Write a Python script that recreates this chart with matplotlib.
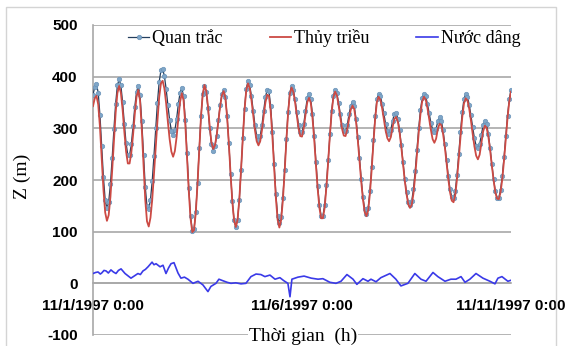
import numpy as np
import pandas as pd
import matplotlib
matplotlib.use("Agg")
import matplotlib.pyplot as plt
from matplotlib.patches import Rectangle

plt.rcParams["axes.unicode_minus"] = False

# hourly observed water level (Quan trac), 11/1/1997 0:00 .. 11/11/1997 0:00
quan_trac = [
    365, 380, 385, 369, 325, 265, 205, 161, 145, 157, 192, 242, 298, 348, 383, 395, 383, 351, 309, 271, 248, 248, 269, 304,
    342, 371, 382, 364, 314, 249, 187, 149, 144, 162, 198, 247, 300, 350, 390, 412, 415, 401, 376, 345, 316, 295, 287, 296,
    318, 347, 369, 378, 362, 316, 252, 185, 131, 102, 105, 138, 194, 261, 323, 366, 382, 370, 339, 300, 269, 257, 265, 286,
    316, 345, 366, 374, 361, 324, 271, 212, 159, 122, 109, 123, 162, 219, 281, 338, 377, 391, 383, 362, 334, 306, 285, 277,
    285, 306, 334, 360, 375, 373, 344, 293, 231, 173, 131, 116, 129, 166, 219, 279, 332, 369, 382, 375, 356, 331, 307, 293,
    292, 308, 334, 358, 367, 357, 328, 285, 235, 188, 151, 131, 131, 151, 190, 238, 289, 333, 363, 374, 368, 350, 327, 306,
    294, 294, 307, 327, 344, 351, 343, 319, 284, 243, 202, 167, 143, 135, 146, 179, 225, 277, 323, 356, 367, 362, 348, 329,
    309, 295, 290, 297, 314, 328, 330, 319, 297, 267, 234, 202, 176, 157, 151, 159, 183, 218, 259, 300, 335, 359, 367, 362,
    348, 330, 311, 297, 292, 299, 314, 321, 315, 296, 269, 238, 207, 182, 167, 165, 179, 210, 250, 293, 331, 357, 366, 361,
    346, 325, 302, 281, 266, 261, 269, 288, 306, 314, 308, 289, 262, 231, 202, 178, 166, 166, 181, 208, 244, 285, 324, 356,
    375,
]

# hourly astronomical tide (Thuy trieu)
thuy_trieu = [
    343, 358, 363, 346, 302, 242, 181, 137, 121, 132, 167, 218, 275, 330, 368, 382, 369, 336, 293, 255, 232, 232, 253, 287,
    328, 361, 374, 354, 299, 229, 162, 120, 110, 127, 162, 211, 264, 314, 360, 387, 392, 377, 348, 312, 279, 255, 245, 256,
    283, 319, 351, 368, 354, 308, 244, 178, 126, 99, 103, 136, 192, 259, 322, 366, 384, 373, 343, 304, 273, 260, 267, 286,
    314, 343, 364, 372, 359, 322, 270, 211, 158, 122, 109, 123, 162, 219, 280, 336, 374, 387, 377, 354, 325, 296, 275, 267,
    275, 296, 324, 350, 365, 363, 334, 284, 223, 165, 123, 108, 122, 160, 214, 275, 329, 366, 379, 371, 351, 325, 300, 285,
    284, 300, 326, 350, 359, 350, 321, 279, 229, 183, 146, 126, 126, 146, 186, 234, 286, 330, 360, 371, 364, 345, 321, 299,
    286, 285, 298, 318, 336, 344, 337, 314, 279, 238, 197, 162, 138, 130, 141, 174, 220, 272, 318, 351, 361, 355, 339, 318,
    296, 281, 275, 283, 302, 318, 322, 313, 293, 264, 231, 199, 173, 153, 146, 152, 174, 208, 249, 291, 327, 352, 361, 356,
    340, 319, 297, 279, 272, 280, 299, 309, 306, 289, 264, 233, 202, 176, 160, 157, 171, 202, 241, 283, 321, 348, 358, 354,
    338, 315, 289, 265, 247, 240, 249, 272, 294, 305, 301, 284, 258, 228, 200, 176, 164, 163, 176, 202, 238, 280, 320, 352,
    371,
]

# surge (Nuoc dang), read at the hours where the line turns
surge_hours = [0, 1.5, 2.9, 4.2, 5, 6.3, 7.5, 8.8, 10.3, 11.7, 13.2, 14.6, 16.1, 18.4, 21.8, 23.6, 25.8, 27.2,
               28.7, 30.1, 31.6, 33.9, 35.0, 36.2, 38.5, 40.2, 41.9, 43.4, 44.8, 46.5, 48.8, 50.5, 52.5, 54.5,
               57.4, 60.3, 63.1, 66, 67.7, 70.6, 72.3, 74.6, 77, 79.2, 82, 85, 87.8, 90.7, 93.6, 96.4, 98.7,
               101.6, 104.5, 107.3, 109.6, 111.9, 113.1, 114.2, 117.7, 121.2, 125.3, 129.2, 132, 136, 139.5,
               142.4, 145.8, 149.3, 151.5, 155, 157.9, 159.6, 162.5, 165.3, 170.5, 173.9, 176.8, 180.8, 184.8,
               188.3, 191.2, 195.2, 198, 202.1, 205.5, 208.4, 211.3, 213.6, 216.4, 219.9, 223.9, 227.9, 230.8,
               232.5, 234.8, 238.2, 240]
nuoc_dang = [19, 21, 22, 18, 20, 25, 24, 20, 26, 22, 19, 25, 28, 19, 10, 14, 19, 17,
             24, 27, 32, 41, 36, 38, 32, 35, 19, 30, 38, 40, 20, 10, 12, 8,
             0, 4, -3, -16, -6, 0, 8, 5, 2, 0, 1, -1, 0, 13, 18, 17, 13,
             16, 8, 11, 5, 0, -26, 8, 12, 14, 10, 8, 9, 2, 0,
             4, 17, 8, -2, 9, 4, 8, 3, 11, 19, 8, -5, 0, 19,
             8, 4, 21, 13, 4, 8, 8, 13, 2, 8, 19, 10, 4, -1,
             10, 13, 4, 6]

series_names = ["Quan trắc", "Thủy triều", "Nước dâng"]
tick_dates = ["1997-11-01", "1997-11-06", "1997-11-11"]
tick_labels = ["11/1/1997 0:00", "11/6/1997 0:00", "11/11/1997 0:00"]

start = pd.Timestamp("1997-11-01")
t_hourly = pd.date_range(start, periods=len(quan_trac), freq="h")
t_surge = start + pd.to_timedelta(surge_hours, unit="h")

W, H = 566, 346
fig = plt.figure(figsize=(W / 100, H / 100), dpi=100)
ax = fig.add_axes([93 / W, 1 - 335 / H, (511 - 93) / W, (335 - 25) / H])

grid_c = "#a8a8a8"
ax.plot(t_hourly, quan_trac, color="#243f5e", lw=0.9, marker="o", ms=3.2,
        mfc="#7fa6c8", mec="#6a93b8", mew=0.5, zorder=3, label=series_names[0])
ax.plot(t_hourly, thuy_trieu, color="#cc4a44", lw=1.3, zorder=4, label=series_names[1])
ax.plot(t_surge, nuoc_dang, color="#3a3ae8", lw=1.2, zorder=5, label=series_names[2])

ax.set_ylim(-100, 500)
ax.set_yticks(range(-100, 501, 100))
ax.set_xlim(start, pd.Timestamp(tick_dates[-1]))
ax.set_xticks(pd.to_datetime(tick_dates))
ax.set_xticklabels(tick_labels)

ax.grid(axis="y", color=grid_c, lw=1.2)
ax.set_axisbelow(True)
for s in ["top", "right"]:
    ax.spines[s].set_visible(False)
ax.spines["bottom"].set_position(("data", 0))
ax.spines["bottom"].set_color(grid_c)
ax.spines["left"].set_color(grid_c)
ax.spines["bottom"].set_linewidth(1.2)
ax.spines["left"].set_linewidth(1.2)

ax.tick_params(axis="both", length=0, pad=11)
for lab in ax.get_xticklabels() + ax.get_yticklabels():
    lab.set_fontfamily(["Liberation Sans", "DejaVu Sans"])
    lab.set_fontweight("bold")
    lab.set_fontsize(11)

serif = ["Liberation Serif", "DejaVu Serif"]
fig.text(303 / W, 1 - 336 / H, "Thời gian  (h)", ha="center", va="center",
         family=serif, size=14, bbox=dict(fc="white", ec="none", pad=0.5))
fig.text(22 / W, 1 - 176 / H, "Z (m)", ha="center", va="center", rotation=90,
         family=serif, size=14)

ax.legend(loc="center", bbox_to_anchor=((324 - 93) / 418, 1 - (38 - 25) / (335 - 25)), ncol=3,
          frameon=False, prop=dict(family=serif, size=13), handlelength=1.2,
          handletextpad=0.15, columnspacing=2.6, borderaxespad=0)

fig.add_artist(Rectangle((6 / W, -0.02), (556 - 6) / W, 1 - 7 / H + 0.02,
                         transform=fig.transFigure, fill=False, ec="#d4d4d4", lw=1))

fig.savefig("out.png", dpi=100)
